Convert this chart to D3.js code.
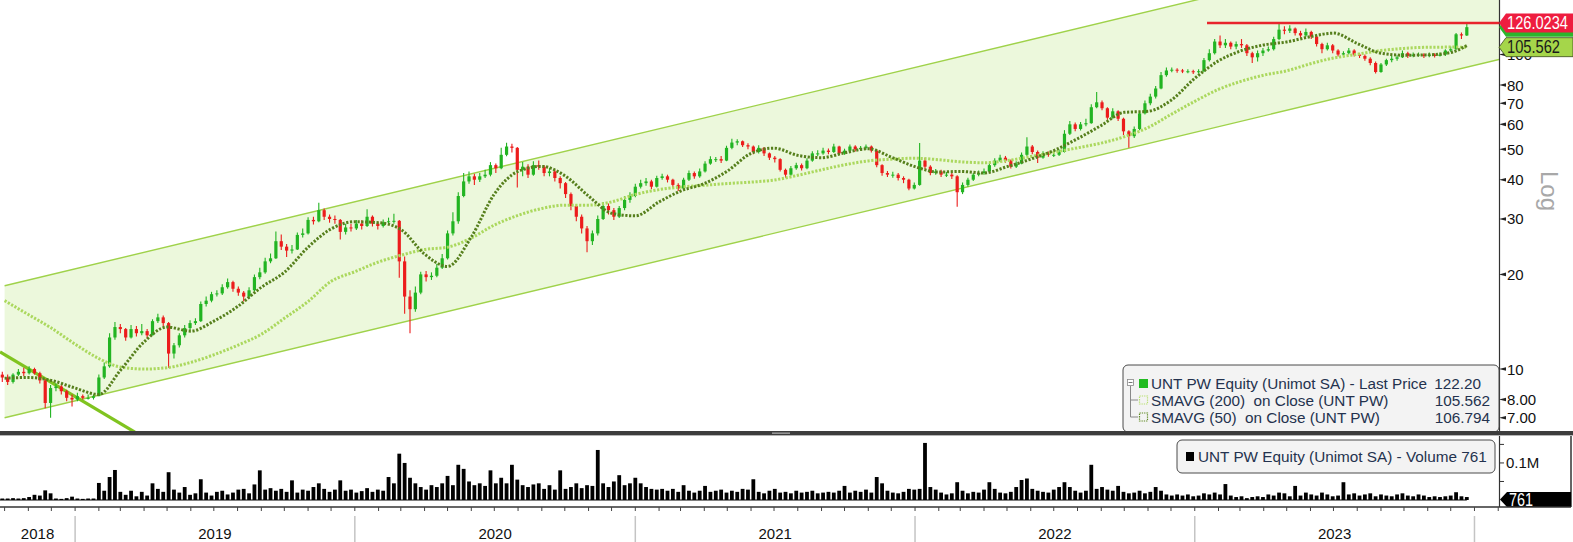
<!DOCTYPE html>
<html><head><meta charset="utf-8">
<script src="https://cdn.jsdelivr.net/npm/d3@7/dist/d3.min.js"></script>
<style>
html,body{margin:0;padding:0;background:#fff;}
svg{display:block;font-family:"Liberation Sans",Arial,sans-serif;}
.pre{white-space:pre;}
</style></head><body>
<svg id="chart" width="1573" height="542"></svg>
<script>
// ---------------- DATA ----------------
const weekStart = "2018-09-28";   // weekly bars (Fridays)
const firstOpen = 9.6;
const closes = [
9.4,9.1,9.6,9.8,9.7, 10.0,9.7,9.2,7.8,8.7, 8.8,8.5,8.1,8.0,8.2, 8.1,8.1,8.2,9.4,10.2,
12.6,13.6,13.4,12.6,13.4, 13.0,13.2,12.8,14.2,14.6, 14.0,11.2,11.9,12.8,13.5, 14.0,14.2,16.1,16.5,17.3,
17.4,18.2,18.9,18.0,17.5, 17.0,17.8,19.6,20.3,22.0, 22.5,25.5,24.5,23.8,24.0, 26.7,27.0,29.8,29.5,32.0,
30.5,30.0,29.8,27.3,28.2, 28.0,29.0,28.5,30.5,29.0, 28.5,29.3,29.5,29.6,22.0, 17.0,15.5,17.5,20.0,19.6,
19.8,21.0,22.5,27.0,29.5, 35.5,39.5,41.0,40.0,41.0, 41.5,44.5,43.5,48.0,51.0, 50.5,43.0,44.0,41.5,44.5,
44.0,42.0,42.5,40.5,39.0, 36.0,33.0,30.5,28.0,25.5, 27.0,30.0,33.0,32.0,30.5, 32.5,34.5,35.5,38.0,39.0,
39.5,38.0,40.5,41.0,40.0, 38.5,37.5,40.0,42.0,41.0, 42.5,45.0,46.5,46.5,46.0, 50.5,52.5,53.0,51.5,51.0,
49.0,50.5,48.5,47.0,46.5, 43.0,41.5,43.5,44.5,43.5, 46.0,48.5,48.5,49.5,49.0, 51.0,48.5,49.5,51.0,50.0,
50.5,51.0,49.5,44.5,42.0, 41.5,41.5,40.5,40.0,37.5, 38.5,46.0,44.0,42.0,42.5, 41.5,41.5,41.0,36.5,38.5,
40.0,41.5,42.0,42.5,44.5, 46.0,47.0,46.0,44.0,45.0, 48.0,51.0,49.0,47.0,48.5, 48.0,48.0,49.0,56.0,60.0,
58.0,60.0,60.5,68.0,70.5, 67.5,63.0,66.0,62.5,57.0, 55.0,58.0,65.0,70.0,73.5, 78.0,86.0,89.0,89.5,89.0,
88.5,88.5,88.0,88.5,96.0, 101,110,107,109,106, 108,107,101,98,101, 103,104,112,120,119,
121,117,115,118,114, 108,104,107,103,100, 101,103,100,99,97, 94,88,93,96,97,
98,101,99,100,100, 99,100,99,100,103, 104,116,115,122.2
];
const highs = [
9.8,9.6,9.7,10.0,10.1, 10.2,10.1,9.8,9.3,8.9, 9.0,8.9,8.6,8.3,8.4, 8.3,8.3,8.3,9.6,10.5,
13.0,14.1,13.9,13.5,13.8, 13.7,13.9,13.4,14.4,15.0, 14.8,14.1,12.1,13.0,13.8, 14.3,14.5,16.4,17.0,17.6,
17.8,18.6,19.4,19.1,18.3, 17.7,18.2,20.0,21.0,22.6, 23.3,27.4,26.8,25.0,24.8, 27.2,28.0,30.4,30.5,33.8,
32.4,31.0,30.8,30.0,29.0, 28.9,29.8,29.7,32.2,30.8, 29.4,29.9,30.3,31.2,29.8, 22.8,17.8,18.3,20.4,20.5,
20.3,21.6,23.2,27.6,31.5, 36.5,42.0,42.5,41.8,42.0, 43.0,45.5,45.0,50.5,52.4, 52.0,50.8,45.5,44.8,45.8,
46.0,44.5,43.6,43.0,41.0, 39.3,36.4,33.4,31.0,28.5, 27.6,30.8,34.0,33.6,32.5, 33.0,35.5,36.5,38.8,40.0,
40.5,40.0,41.2,41.8,41.5, 40.3,39.0,40.6,42.8,42.5, 43.4,45.8,47.5,47.2,47.6, 51.3,54.0,53.8,53.3,52.2,
51.4,51.5,50.8,48.8,47.6, 46.8,43.4,44.2,45.3,45.0, 46.8,49.3,49.6,50.5,50.3, 52.0,51.3,50.2,51.8,51.5,
51.2,51.8,51.4,49.8,44.8, 42.6,42.4,42.0,41.0,40.3, 39.2,52.3,47.0,44.5,43.3, 43.0,42.3,42.0,41.3,39.2,
40.6,42.0,42.8,43.4,45.3, 46.8,48.0,47.6,46.4,45.8, 48.8,54.6,51.6,49.5,49.3, 49.2,48.9,49.8,57.5,61.5,
60.8,61.0,62.5,69.5,76.0, 71.5,68.0,67.5,66.5,63.0, 57.5,59.0,66.0,71.5,75.0, 79.5,88.0,91.0,91.0,90.5,
90.0,89.8,89.5,89.8,97.5, 104,112,115,112,110, 110,112,108,102,103, 105,106,114,126,123,
124,122,119,121,119, 115,109,109,108,104, 102.5,105,104,101,100, 98,95,94,97,99,
99.5,103,102,101.5,101.5, 101,101.5,101,101.5,104, 106,117,117.5,125
];
const lows = [
9.1,8.9,9.0,9.5,9.5, 9.6,9.6,9.0,7.5,7.0, 8.5,8.3,7.9,7.6,7.9, 8.0,8.0,8.0,8.2,9.3,
10.1,12.4,13.0,12.3,12.5, 12.7,12.8,12.5,12.8,14.0, 13.7,10.1,10.8,11.7,12.6, 13.3,13.8,14.1,15.8,16.3,
17.0,17.2,18.0,17.6,17.1, 16.4,16.8,17.7,19.3,20.1, 21.7,22.4,23.9,22.7,23.3, 23.9,26.2,26.8,28.8,29.3,
29.8,29.2,29.0,25.8,26.8, 27.4,27.7,27.8,28.3,28.4, 27.8,28.2,28.8,29.0,19.5, 15.0,13.0,15.2,17.3,19.0,
19.2,19.6,20.8,22.3,26.6, 29.0,35.2,38.8,38.5,39.3, 40.5,41.0,42.0,43.2,47.5, 48.8,37.8,41.0,40.5,41.2,
43.0,41.0,41.0,39.5,37.5, 35.0,32.0,29.5,27.0,23.5, 24.8,26.6,29.8,31.0,29.8, 30.2,32.0,33.8,35.2,37.5,
38.3,37.3,37.8,40.0,39.2, 37.8,36.8,37.2,39.6,40.3, 40.6,42.2,44.6,45.5,45.2, 45.8,50.0,51.5,50.8,50.0,
48.2,48.5,47.6,46.2,45.4, 42.5,40.6,41.2,43.0,42.8, 43.2,45.6,47.6,48.0,48.2, 48.6,47.8,48.0,49.0,49.2,
49.5,49.8,48.8,43.8,41.2, 40.8,40.6,39.8,39.0,37.0, 37.2,38.3,43.2,41.3,41.5, 40.8,40.8,40.2,32.8,36.0,
38.0,39.6,41.0,41.5,42.2, 44.0,45.5,45.3,43.4,43.6, 44.8,47.6,48.2,45.2,46.6, 47.3,47.2,47.6,48.8,55.5,
57.0,57.4,59.2,60.2,67.5, 66.5,62.0,62.5,61.5,55.5, 50.5,54.3,57.5,64.5,69.0, 72.5,77.5,85.0,87.8,87.5,
87.3,87.2,86.8,87.0,88.0, 95,100,105,105,104, 104,105,99,94,95, 99,102,103,111,116,
117,115,113,114,112, 106,101,103,101,98.5, 99,100,98.5,97.5,95.5, 92.5,87,87.5,92,94.5,
95.5,97.5,97.5,98,98.5, 97.5,98,97.8,98.5,99, 102,103.5,112,114.5
];
const volumesK = [
4,4,5,4,5, 8,14,12,26,18, 4,3,5,9,4, 3,4,4,46,25,
62,81,22,14,25, 10,22,12,45,30, 22,75,28,20,35, 14,18,56,20,12,
22,25,15,20,28, 30,18,42,80,28, 32,25,30,22,53, 20,28,25,35,45,
30,22,28,53,25, 28,20,24,32,22, 28,25,62,45,125, 100,60,45,35,28,
40,35,45,65,40, 95,84,50,40,45, 38,80,45,60,45, 95,55,40,35,42,
45,30,40,28,80, 30,35,45,32,40, 38,135,45,35,50, 67,40,45,60,45,
35,30,28,30,25, 30,22,40,25,20, 25,38,22,25,28, 20,25,22,30,28,
56,22,18,25,30, 20,22,18,25,20, 22,25,18,20,22, 20,25,38,20,25,
22,28,20,62,45, 25,20,18,22,30, 28,30,154,35,28, 20,15,18,48,25,
18,22,20,28,48, 30,20,18,22,35, 54,58,30,25,22, 20,28,35,48,35,
25,20,25,95,30, 35,28,25,38,22, 18,20,25,18,22, 35,25,15,12,15,
12,15,10,12,18, 15,20,15,43,12, 8,10,5,8,10, 8,15,12,20,18,
10,38,12,20,15, 12,20,15,10,12, 48,15,18,12,15, 18,10,15,12,10,
15,18,12,10,15, 12,8,10,8,10, 12,21,10,8
];
// moving averages read monthly (first of month), plus last bar
const smaStart = "2018-10-01";
const smaLastDate = "2023-12-22";
const sma50 = [
9.35,9.4,9.2,
8.7,8.3,9.9,12.2,13.6,13.2,14.2,15.8,18.2,20.3,24.4,27.9,
29.4,29.2,27.8,23.2,21.2,26.3,36.0,42.5,44.1,41.2,35.5,31.3,
30.7,34.0,36.8,38.9,42.6,48.5,50.4,47.8,47.0,48.7,50.2,47.2,
44.0,42.3,42.5,42.0,44.0,46.5,49.5,54.0,59.5,65.5,66.0,71.5,
84.0,95.5,102.5,107.3,109.7,114.0,117.0,108.5,101.0,99.5,99.8,101.5,
106.794
];
const sma200 = [
16.5,14.9,13.5,
12.0,10.8,10.15,10.0,10.1,10.5,11.1,11.9,12.9,14.5,16.4,19.0,
20.4,21.9,23.0,24.0,24.4,26.1,28.7,30.8,32.4,33.2,33.2,34.0,
35.9,37.2,37.9,38.4,38.9,39.3,39.9,41.3,43.0,44.6,45.9,46.5,
46.8,46.3,45.6,45.3,46.0,47.4,48.9,50.5,52.3,54.8,58.6,64.5,
71.0,77.5,82.0,86.0,88.8,93.5,97.5,100.2,103.0,104.6,105.5,105.6,
105.562
];
const channelDates = ["2018-10-01", "2024-02-02"];
const channelUpper = [18.4, 253.8];
const channelLower = [7.0, 96.5];
const trendDates = ["2018-09-25", "2019-03-20"];
const trendValues = [11.33, 6.30];
const resistanceStart = "2023-01-17";
const resistanceLevel = 126.0234;
const priceTicks = [7, 8, 10, 20, 30, 40, 50, 60, 70, 80, 100];
const priceTickLabels = ["7.00","8.00","10","20","30","40","50","60","70","80","100"];
const volTicks = [50, 100, 150];
const volTickLabels = {100: "0.1M"};
const years = [2018, 2019, 2020, 2021, 2022, 2023];
const lastPrice = 122.20, lastSma200 = 105.562, lastSma50 = 106.794, lastVolume = 761;
const legendRows = [
  {label: "UNT PW Equity (Unimot SA) - Last Price", value: "122.20"},
  {label: "SMAVG (200)  on Close (UNT PW)", value: "105.562"},
  {label: "SMAVG (50)  on Close (UNT PW)", value: "106.794"}
];
const volLegend = "UNT PW Equity (Unimot SA) - Volume 761";

// ---------------- CHART ----------------
const parse = d3.timeParse("%Y-%m-%d");
const svg = d3.select("#chart");
const W = 1573, PR = 1499;
const x = d3.scaleTime().domain([parse("2018-09-25"), parse("2024-02-02")]).range([0, PR]);
const y = d3.scaleLog().domain([6.40, 149.1]).range([430, 0]);
const yv = d3.scaleLinear().domain([0, 170]).range([500, 437]);

const start = parse(weekStart);
const bars = closes.map((c, i) => ({
  date: d3.timeDay.offset(start, 7 * i),
  open: i === 0 ? firstOpen : closes[i - 1],
  close: c, high: highs[i], low: lows[i], vol: volumesK[i]
}));
const smaDates = d3.timeMonth.range(parse(smaStart), parse("2024-01-01"));
smaDates.push(parse(smaLastDate));

const defs = svg.append("defs");
defs.append("clipPath").attr("id", "mainClip").append("rect").attr("x", 0).attr("y", 0).attr("width", PR).attr("height", 431);

const main = svg.append("g").attr("clip-path", "url(#mainClip)");
// regression channel
const cu = channelDates.map((d, i) => [x(parse(d)), y(channelUpper[i])]);
const cl = channelDates.map((d, i) => [x(parse(d)), y(channelLower[i])]);
main.append("polygon").attr("points", [cu[0], cu[1], cl[1], cl[0]].map(p => p.join(",")).join(" "))
  .attr("fill", "#ecf8dc");
[cu, cl].forEach(pts => main.append("line")
  .attr("x1", pts[0][0]).attr("y1", pts[0][1]).attr("x2", pts[1][0]).attr("y2", pts[1][1])
  .attr("stroke", "#9fd24a").attr("stroke-width", 1.4));
// old downtrend line
main.append("line")
  .attr("x1", x(parse(trendDates[0]))).attr("y1", y(trendValues[0]))
  .attr("x2", x(parse(trendDates[1]))).attr("y2", y(trendValues[1]))
  .attr("stroke", "#80c420").attr("stroke-width", 3.2);

// candles
const cg = main.append("g");
bars.forEach(b => {
  const up = b.close >= b.open;
  const col = up ? "#22b422" : "#ec1c1c";
  const cx = x(b.date);
  cg.append("line").attr("x1", cx).attr("x2", cx).attr("y1", y(b.high)).attr("y2", y(b.low))
    .attr("stroke", col).attr("stroke-width", 1.1);
  const t = y(Math.max(b.open, b.close)), bt = y(Math.min(b.open, b.close));
  cg.append("rect").attr("x", cx - 1.6).attr("width", 3.2).attr("y", t).attr("height", Math.max(1, bt - t))
    .attr("fill", col);
});

// moving averages
const smaLine = d3.line().x((d, i) => x(smaDates[i])).y(d => y(d)).curve(d3.curveMonotoneX);
main.append("path").attr("d", smaLine(sma200)).attr("fill", "none")
  .attr("stroke", "#abd85e").attr("stroke-width", 3).attr("stroke-dasharray", "2.2,1.6");
main.append("path").attr("d", smaLine(sma50)).attr("fill", "none")
  .attr("stroke", "#567f1c").attr("stroke-width", 3).attr("stroke-dasharray", "2.2,1.6");

// resistance line
svg.append("line").attr("x1", x(parse(resistanceStart))).attr("x2", PR)
  .attr("y1", y(resistanceLevel)).attr("y2", y(resistanceLevel))
  .attr("stroke", "#e8242c").attr("stroke-width", 2.6);

// right axis (price)
svg.append("line").attr("x1", PR + 0.5).attr("x2", PR + 0.5).attr("y1", 0).attr("y2", 431)
  .attr("stroke", "#333").attr("stroke-width", 1.2);
priceTicks.forEach((v, i) => {
  const ty = y(v);
  svg.append("path").attr("d", `M${PR},${ty} L${PR + 7},${ty - 1.8} L${PR + 7},${ty + 1.8} Z`).attr("fill", "#222");
  svg.append("text").attr("x", PR + 8).attr("y", ty + 5.5).attr("font-size", 15).attr("fill", "#111")
    .text(priceTickLabels[i]);
});

// value tags
function tag(yc, h, fill, stroke, txt, txtColor, len) {
  const pts = [[PR, yc], [PR + 7, yc - h / 2], [W, yc - h / 2], [W, yc + h / 2], [PR + 7, yc + h / 2]];
  svg.append("polygon").attr("points", pts.map(p => p.join(",")).join(" "))
    .attr("fill", fill).attr("stroke", stroke || "none").attr("stroke-width", 0.8);
  if (txt) svg.append("g").attr("transform", `translate(${PR + 8},${yc + 6.3}) scale(1,1.15)`)
    .append("text").attr("x", 0).attr("y", 0).attr("font-size", 15.5).attr("fill", txtColor)
    .attr("textLength", len).attr("lengthAdjust", "spacingAndGlyphs").text(txt);
}
tag(y(lastPrice), 19, "#2cb52c", null, "", "#fff", 0);
tag(y(resistanceLevel), 19, "#ee1d3f", null, String(resistanceLevel), "#fff", 61);
tag(y(lastSma200), 19, "#a5d64a", "#3a4a1a", String(lastSma200), "#1a1a1a", 53);

// Log label
svg.append("text").attr("transform", "translate(1541,171) rotate(90)")
  .attr("font-size", 24).attr("fill", "#a8a8a8").text("Log");

// main legend
const lg = svg.append("g");
lg.append("rect").attr("x", 1123).attr("y", 365).attr("width", 376).attr("height", 67).attr("rx", 5)
  .attr("fill", "#f3f3f3").attr("stroke", "#4a4a4a").attr("stroke-width", 1);
const rowY = [383, 400, 417];
lg.append("rect").attr("x", 1127.5).attr("y", rowY[0] - 3.5).attr("width", 6).attr("height", 6)
  .attr("fill", "#fff").attr("stroke", "#888").attr("stroke-width", 0.8);
lg.append("line").attr("x1", 1128.5).attr("x2", 1132.5).attr("y1", rowY[0] - 0.5).attr("y2", rowY[0] - 0.5).attr("stroke", "#777");
lg.append("path").attr("d", `M1130.5,${rowY[0] + 3} V${rowY[2]} H1138 M1130.5,${rowY[1]} H1138`)
  .attr("fill", "none").attr("stroke", "#888").attr("stroke-width", 1);
lg.append("rect").attr("x", 1139).attr("y", rowY[0] - 4).attr("width", 9).attr("height", 9).attr("fill", "#22bb22");
[["#b8e070", rowY[1]], ["#5f8a22", rowY[2]]].forEach(([c, ry]) =>
  lg.append("rect").attr("x", 1139.5).attr("y", ry - 4).attr("width", 8).attr("height", 8).attr("fill", "none")
    .attr("stroke", c).attr("stroke-width", 1.2).attr("stroke-dasharray", "1.3,1"));
legendRows.forEach((r, i) => {
  lg.append("text").attr("class", "pre").attr("x", 1151).attr("y", rowY[i] + 5.5).attr("font-size", 15.3)
    .attr("fill", "#24324e").text(r.label);
  lg.append("text").attr("x", i === 0 ? 1481 : 1490).attr("y", rowY[i] + 5.5).attr("font-size", 15.3)
    .attr("text-anchor", "end").attr("fill", "#24324e").text(r.value);
});

// separator between panels
svg.append("rect").attr("x", 0).attr("y", 431).attr("width", W).attr("height", 4).attr("fill", "#3d3d3d");
svg.append("line").attr("x1", 0).attr("x2", W).attr("y1", 435.5).attr("y2", 435.5).attr("stroke", "#b5b5b5");
svg.append("rect").attr("x", 772).attr("y", 432.5).attr("width", 18).attr("height", 1.3).attr("fill", "#aaa");

// volume panel
const vg = svg.append("g");
bars.forEach(b => {
  const cx = x(b.date);
  vg.append("rect").attr("x", cx - 1.9).attr("width", 3.8).attr("y", yv(b.vol)).attr("height", yv(0) - yv(b.vol))
    .attr("fill", "#000");
});
vg.append("line").attr("x1", 0).attr("x2", x(bars[bars.length - 1].date)).attr("y1", yv(0)).attr("y2", yv(0))
  .attr("stroke", "#000").attr("stroke-width", 1.2);
svg.append("line").attr("x1", PR + 0.5).attr("x2", PR + 0.5).attr("y1", 436).attr("y2", 507)
  .attr("stroke", "#333").attr("stroke-width", 1.2);
svg.append("line").attr("x1", 1571).attr("x2", 1571).attr("y1", 436).attr("y2", 507)
  .attr("stroke", "#333").attr("stroke-width", 1.5);
volTicks.forEach(v => {
  svg.append("line").attr("x1", PR).attr("x2", PR + 5).attr("y1", yv(v)).attr("y2", yv(v)).attr("stroke", "#333");
  if (volTickLabels[v]) svg.append("text").attr("x", PR + 7).attr("y", yv(v) + 5.5).attr("font-size", 15)
    .attr("fill", "#111").text(volTickLabels[v]);
});
// volume tag
(function () {
  const yc = 499.5, h = 15;
  const pts = [[PR + 1, yc], [PR + 8, yc - h / 2], [1571, yc - h / 2], [1571, yc + h / 2], [PR + 8, yc + h / 2]];
  svg.append("polygon").attr("points", pts.map(p => p.join(",")).join(" ")).attr("fill", "#000");
  svg.append("g").attr("transform", `translate(${PR + 10},${yc + 6.3}) scale(1,1.15)`)
    .append("text").attr("font-size", 15.5).attr("fill", "#fff")
    .attr("textLength", 24).attr("lengthAdjust", "spacingAndGlyphs").text(String(lastVolume));
})();
// volume legend
svg.append("rect").attr("x", 1177).attr("y", 440).attr("width", 318).attr("height", 33).attr("rx", 5)
  .attr("fill", "#f3f3f3").attr("stroke", "#4a4a4a");
svg.append("rect").attr("x", 1186).attr("y", 452).attr("width", 8).attr("height", 9).attr("fill", "#000");
svg.append("text").attr("x", 1198).attr("y", 462).attr("font-size", 15.3).attr("fill", "#24324e").text(volLegend);

// time axis
svg.append("line").attr("x1", 0).attr("x2", 1571).attr("y1", 507).attr("y2", 507).attr("stroke", "#333").attr("stroke-width", 1.3);
d3.timeMonth.range(x.domain()[0], x.domain()[1]).forEach(m => {
  svg.append("line").attr("x1", x(m)).attr("x2", x(m)).attr("y1", 507).attr("y2", 511).attr("stroke", "#444");
});
years.forEach(yr => {
  const a = Math.max(0, x(new Date(yr, 0, 1))), bnd = x(new Date(yr + 1, 0, 1));
  svg.append("line").attr("x1", bnd).attr("x2", bnd).attr("y1", 516).attr("y2", 542)
    .attr("stroke", "#c4c4c4").attr("stroke-width", 1.5);
  svg.append("text").attr("x", (a + Math.min(bnd, PR)) / 2).attr("y", 539).attr("text-anchor", "middle")
    .attr("font-size", 15).attr("fill", "#111").text(String(yr));
});
</script>
</body></html>
